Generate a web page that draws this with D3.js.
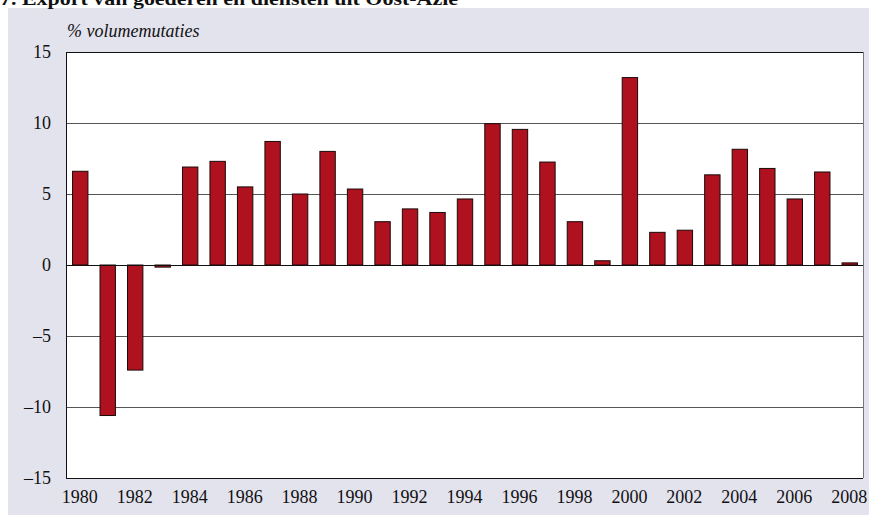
<!DOCTYPE html>
<html><head><meta charset="utf-8">
<script src="https://cdn.jsdelivr.net/npm/d3@7"></script>
<style>body{margin:0;background:#fff}svg{display:block}</style>
</head><body>
<svg id="c" width="869" height="515"></svg>
<script>
const years = d3.range(1980, 2009).map(String);
const values = [6.6,-10.6,-7.4,-0.15,6.9,7.3,5.5,8.7,5.0,8.0,5.35,3.05,3.95,3.7,4.65,9.95,9.55,7.25,3.05,0.3,13.2,2.3,2.45,6.35,8.15,6.8,4.65,6.55,0.15];
const yTicks = [-15,-10,-5,0,5,10,15];
const xTickLabels = years.filter((y,i)=>i%2===0);
const title = "7. Export van goederen en diensten uit Oost-Azië";
const yLabel = "% volumemutaties";

const svg = d3.select("#c");
const W=869,H=515;
svg.append("rect").attr("x",8).attr("y",8).attr("width",W-8).attr("height",H-8).attr("fill","#e3e3ee");
svg.append("text").attr("x",0).attr("y",5).attr("font-family","Liberation Serif, serif").attr("font-weight","bold")
  .attr("font-size",19).attr("fill","#111").attr("textLength",458).attr("lengthAdjust","spacingAndGlyphs").text(title);

const m={l:66,r:863,t:52,b:478};
svg.append("rect").attr("x",m.l).attr("y",m.t).attr("width",m.r-m.l).attr("height",m.b-m.t).attr("fill","#fff");

const x=d3.scaleBand().domain(years).range([m.l,m.r]).paddingInner(0.44).paddingOuter(0.22);
const y=d3.scaleLinear().domain([-15,15]).range([m.b,m.t]);

// gridlines
svg.append("g").selectAll("line").data(yTicks.filter(t=>t!==0)).join("line")
  .attr("x1",m.l).attr("x2",m.r).attr("y1",d=>Math.round(y(d))+0.5).attr("y2",d=>Math.round(y(d))+0.5)
  .attr("stroke",d=>(d===15||d===-15)?"#111":"#555").attr("stroke-width",1);

// bars
svg.append("g").selectAll("rect").data(values).join("rect")
  .attr("x",(d,i)=>x(years[i])+0.5).attr("width",x.bandwidth())
  .attr("y",d=>y(Math.max(0,d))).attr("height",d=>Math.abs(y(d)-y(0)))
  .attr("fill","#b0111f").attr("stroke","#1a0a0a").attr("stroke-width",1);

// zero line
svg.append("line").attr("x1",m.l).attr("x2",m.r).attr("y1",Math.round(y(0))+0.5).attr("y2",Math.round(y(0))+0.5)
  .attr("stroke","#111").attr("stroke-width",1.2);
// frame
svg.append("line").attr("x1",m.l+0.5).attr("x2",m.l+0.5).attr("y1",m.t).attr("y2",m.b).attr("stroke","#111");
svg.append("line").attr("x1",m.r+0.5).attr("x2",m.r+0.5).attr("y1",m.t).attr("y2",m.b).attr("stroke","#777");

// y axis labels
const yAxis=d3.axisLeft(y).tickValues(yTicks).tickSize(0).tickPadding(15)
  .tickFormat(d=>d<0?"\u2013"+Math.abs(d):String(d));
const gy=svg.append("g").attr("transform",`translate(${m.l},0)`).call(yAxis);
gy.select(".domain").remove();
gy.selectAll("text").attr("font-family","Liberation Serif, serif").attr("font-size",18).attr("fill","#111");

// x axis labels
const xAxis=d3.axisBottom(x).tickValues(xTickLabels).tickSize(0).tickPadding(12);
const gx=svg.append("g").attr("transform",`translate(0,${m.b})`).call(xAxis);
gx.select(".domain").remove();
gx.selectAll("text").attr("font-family","Liberation Serif, serif").attr("font-size",18).attr("fill","#111");

svg.append("text").attr("x",67).attr("y",37).attr("font-family","Liberation Serif, serif").attr("font-style","italic")
  .attr("font-size",18).attr("fill","#111").text(yLabel);
</script>
</body></html>
